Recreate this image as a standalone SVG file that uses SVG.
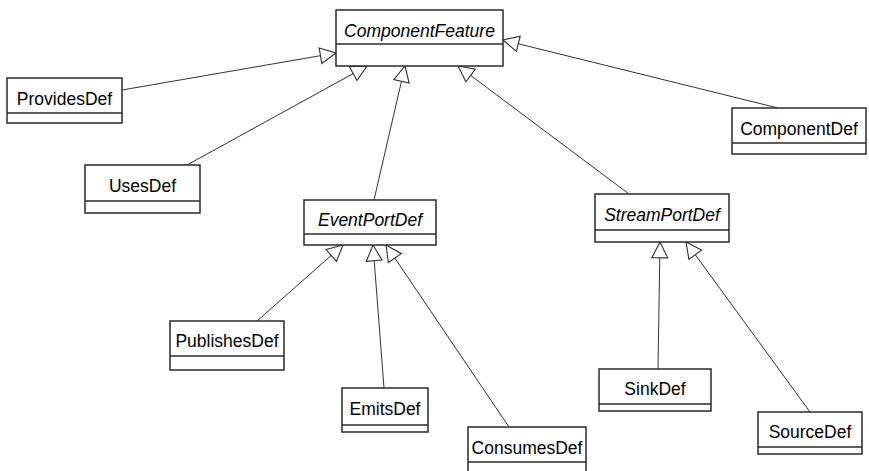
<svg xmlns="http://www.w3.org/2000/svg" width="869" height="471" viewBox="0 0 869 471">
<style>
.box{fill:#fff;stroke:#2a2a2a;stroke-width:1.5}
.div{stroke:#2a2a2a;stroke-width:1.5}
.t{font-family:"Liberation Sans",Arial,sans-serif;font-size:17.5px;fill:#000;text-anchor:middle}
.i{font-style:italic}
.c{fill:none;stroke:#333;stroke-width:1;marker-end:url(#tri)}
</style>
<defs>
<marker id="tri" markerUnits="userSpaceOnUse" markerWidth="18" markerHeight="18" viewBox="0 0 16 16" refX="15" refY="8" orient="auto">
<path d="M1,1 L15,8 L1,15 Z" fill="#fff" stroke="#333" stroke-width="1"/>
</marker>
</defs>
<rect width="869" height="471" fill="#fff"/>
<g id="connectors">
<line class="c" x1="122" y1="90" x2="336" y2="53"/>
<line class="c" x1="187" y1="165" x2="367" y2="66"/>
<line class="c" x1="374" y1="200" x2="405" y2="66"/>
<line class="c" x1="629" y1="194" x2="458" y2="66"/>
<line class="c" x1="778" y1="108" x2="503" y2="40"/>
<line class="c" x1="257" y1="321" x2="343" y2="245"/>
<line class="c" x1="384" y1="388" x2="373" y2="245"/>
<line class="c" x1="509" y1="427" x2="386" y2="245"/>
<line class="c" x1="658" y1="369" x2="660" y2="242"/>
<line class="c" x1="810" y1="412" x2="686" y2="242"/>
</g>
<g id="ComponentFeature">
<rect class="box" x="336" y="10" width="167" height="56"/>
<line class="div" x1="336" y1="44" x2="503" y2="44"/>
<text class="t i" x="419.5" y="37">ComponentFeature</text>
</g>
<g id="ProvidesDef">
<rect class="box" x="7" y="78" width="115" height="45"/>
<line class="div" x1="7" y1="113" x2="122" y2="113"/>
<text class="t" x="64.5" y="105">ProvidesDef</text>
</g>
<g id="UsesDef">
<rect class="box" x="85" y="165" width="115" height="48"/>
<line class="div" x1="85" y1="201" x2="200" y2="201"/>
<text class="t" x="142.5" y="192">UsesDef</text>
</g>
<g id="ComponentDef">
<rect class="box" x="732" y="108" width="134" height="46"/>
<line class="div" x1="732" y1="143" x2="866" y2="143"/>
<text class="t" x="799" y="135">ComponentDef</text>
</g>
<g id="EventPortDef">
<rect class="box" x="304" y="200" width="132" height="45"/>
<line class="div" x1="304" y1="234" x2="436" y2="234"/>
<text class="t i" x="370" y="226">EventPortDef</text>
</g>
<g id="StreamPortDef">
<rect class="box" x="595" y="194" width="134" height="48"/>
<line class="div" x1="595" y1="230" x2="729" y2="230"/>
<text class="t i" x="662" y="221">StreamPortDef</text>
</g>
<g id="PublishesDef">
<rect class="box" x="170" y="321" width="114" height="49"/>
<line class="div" x1="170" y1="356" x2="284" y2="356"/>
<text class="t" x="227" y="347">PublishesDef</text>
</g>
<g id="EmitsDef">
<rect class="box" x="342" y="388" width="86" height="44"/>
<line class="div" x1="342" y1="425" x2="428" y2="425"/>
<text class="t" x="385" y="415">EmitsDef</text>
</g>
<g id="ConsumesDef">
<rect class="box" x="468" y="427" width="118" height="50"/>
<line class="div" x1="468" y1="462" x2="586" y2="462"/>
<text class="t" x="527" y="454">ConsumesDef</text>
</g>
<g id="SinkDef">
<rect class="box" x="599" y="369" width="112" height="42"/>
<line class="div" x1="599" y1="404" x2="711" y2="404"/>
<text class="t" x="655" y="395">SinkDef</text>
</g>
<g id="SourceDef">
<rect class="box" x="758" y="412" width="104" height="42"/>
<line class="div" x1="758" y1="447" x2="862" y2="447"/>
<text class="t" x="810" y="438">SourceDef</text>
</g>
</svg>
